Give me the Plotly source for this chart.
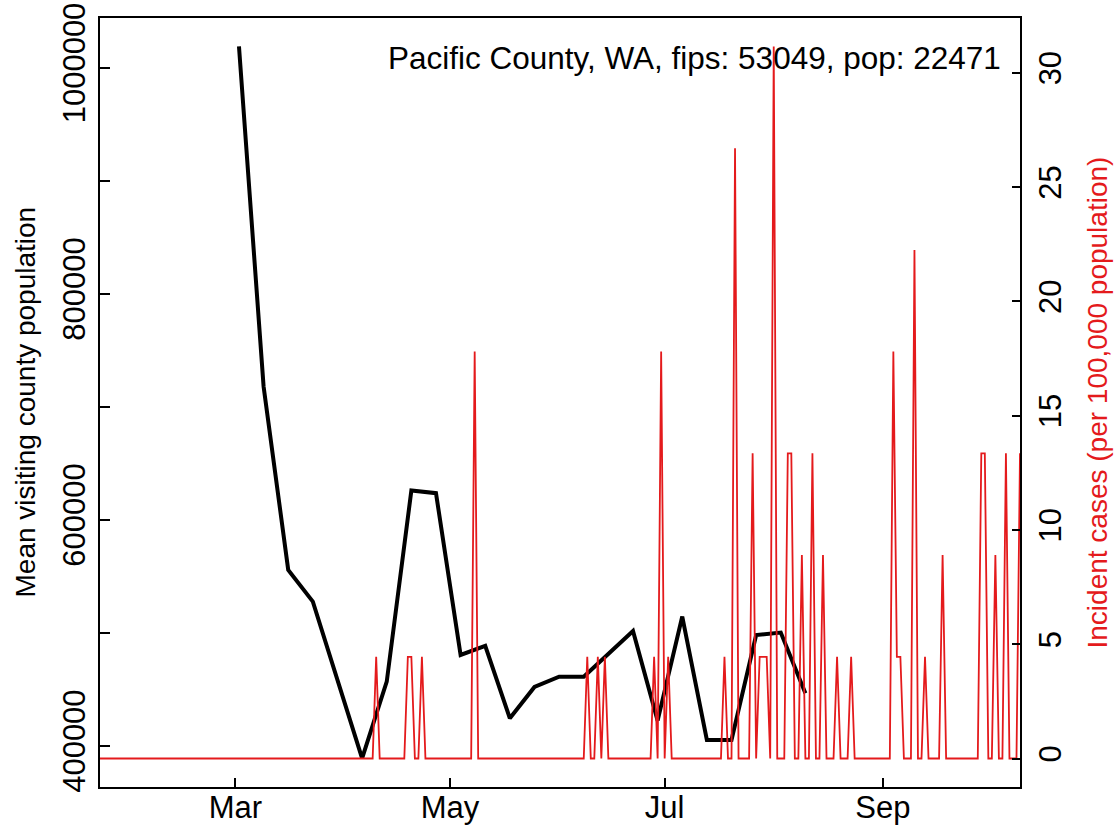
import plotly.graph_objects as go
import pandas as pd

# Pacific County, WA - visiting population (weekly) and daily incident cases

pop = 22471

# weekly mean visiting county population (left axis)
visit_dates = ['2020-03-02', '2020-03-09', '2020-03-16', '2020-03-23', '2020-04-06',
               '2020-04-13', '2020-04-20', '2020-04-27', '2020-05-04', '2020-05-11',
               '2020-05-18', '2020-05-25', '2020-06-01', '2020-06-08', '2020-06-22',
               '2020-06-29', '2020-07-06', '2020-07-13', '2020-07-20', '2020-07-27',
               '2020-08-03', '2020-08-10']
visit_pop = [1018700, 717900, 555600, 527500, 388750,
             456700, 625800, 623500, 480300, 488300,
             424300, 452000, 461100, 461100, 501600,
             422200, 514300, 405100, 405100, 498000,
             500100, 446400]

# daily new cases, 2020-01-22 .. 2020-10-10, one list per month
cases_jan = [0] * 10
cases_feb = [0] * 29
cases_mar = [0] * 31
cases_apr = [0, 0, 0, 0, 0, 0, 0, 0, 0, 1, 0, 0, 0, 0, 0, 0, 0, 0, 1, 1,
             0, 0, 1, 0, 0, 0, 0, 0, 0, 0]
cases_may = [0, 0, 0, 0, 0, 0, 0, 4, 0, 0, 0, 0, 0, 0, 0, 0, 0, 0, 0, 0,
             0, 0, 0, 0, 0, 0, 0, 0, 0, 0, 0]
cases_jun = [0, 0, 0, 0, 0, 0, 0, 0, 1, 0, 0, 1, 0, 1, 0, 0, 0, 0, 0, 0,
             0, 0, 0, 0, 0, 0, 0, 1, 0, 4]
cases_jul = [0, 1, 0, 0, 0, 0, 0, 0, 0, 0, 0, 0, 0, 0, 0, 0, 0, 1, 0, 0,
             6, 0, 0, 0, 0, 3, 0, 1, 1, 1, 0]
cases_aug = [7, 0, 0, 0, 3, 3, 0, 0, 2, 0, 0, 3, 0, 0, 2, 0, 0, 0, 1, 0,
             0, 0, 1, 0, 0, 0, 0, 0, 0, 0, 0]
cases_sep = [0, 0, 0, 4, 1, 1, 0, 0, 0, 5, 0, 0, 1, 0, 0, 0, 0, 2, 0, 0,
             0, 0, 0, 0, 0, 0, 0, 0, 3, 3]
cases_oct = [0, 0, 2, 0, 0, 3, 0, 0, 0, 3]

daily_cases = (cases_jan + cases_feb + cases_mar + cases_apr + cases_may +
               cases_jun + cases_jul + cases_aug + cases_sep + cases_oct)
case_dates = pd.date_range('2020-01-22', periods=len(daily_cases), freq='D')
case_rate = [c * 100000 / pop for c in daily_cases]

month_ticks = ['2020-03-01', '2020-05-01', '2020-07-01', '2020-09-01']
month_labels = ['Mar', 'May', 'Jul', 'Sep']
left_ticks = [400000, 500000, 600000, 700000, 800000, 900000, 1000000]
left_labels = ['400000', '', '600000', '', '800000', '', '1000000']
right_ticks = [0, 5, 10, 15, 20, 25, 30]

red = '#e41a1c'
font = 'Liberation Sans, Arial, sans-serif'

fig = go.Figure()
fig.add_trace(go.Scatter(x=pd.to_datetime(visit_dates), y=visit_pop, mode='lines',
                         line=dict(color='black', width=4), showlegend=False))
fig.add_trace(go.Scatter(x=case_dates, y=case_rate, mode='lines', yaxis='y2',
                         line=dict(color=red, width=1.8), showlegend=False))

# R style: padded ranges, ticks pointing inwards, full box
fig.update_xaxes(range=['2020-01-22 12:00', '2020-10-10'], tickvals=pd.to_datetime(month_ticks),
                 ticktext=month_labels, ticks='inside', ticklen=9, tickwidth=1.5,
                 tickcolor='black', showline=True, mirror=True, linecolor='black',
                 linewidth=1.5, showgrid=False, zeroline=False, automargin=False,
                 ticklabelstandoff=-8, tickfont=dict(size=31, color='black'))

fig.update_layout(
    width=1119, height=830, autosize=False,
    plot_bgcolor='white', paper_bgcolor='white',
    font=dict(family=font, size=30, color='black'),
    margin=dict(t=18, b=43, l=100, r=99),
    yaxis=dict(range=[363500, 1043900], tickvals=left_ticks, ticktext=left_labels,
               tickangle=-90, ticks='inside', ticklen=10, tickwidth=1.5, tickcolor='black',
               showline=True, mirror=True, linecolor='black', linewidth=1.5,
               showgrid=False, zeroline=False, automargin=False, ticklabelstandoff=1,
               ticklabeloverflow='allow', tickfont=dict(size=31, color='black')),
    yaxis2=dict(range=[-1.246, 32.396], tickvals=right_ticks, overlaying='y', side='right',
                tickangle=-90, ticks='inside', ticklen=8, tickwidth=1.5, tickcolor='black',
                showline=True, linecolor='black', linewidth=1.5,
                showgrid=False, zeroline=False, automargin=False, ticklabelstandoff=2,
                ticklabeloverflow='allow', tickfont=dict(size=31, color='black')),
)

# axis titles
fig.add_annotation(x=-0.0815, y=0.5, xref='paper', yref='paper', textangle=-90,
                   xanchor='center', yanchor='middle', showarrow=False,
                   text='Mean visiting county population',
                   font=dict(size=28, color='black'))
fig.add_annotation(x=1.0837, y=0.5, xref='paper', yref='paper', textangle=-90,
                   xanchor='center', yanchor='middle', showarrow=False,
                   text='Incident cases (per 100,000 population)',
                   font=dict(size=28, color=red))

fig.add_annotation(x=0.9815, y=0.9486, xref='paper', yref='paper', xanchor='right',
                   yanchor='middle', showarrow=False,
                   text='Pacific County, WA, fips: 53049, pop: 22471',
                   font=dict(size=31.5, color='black'))

fig.write_html("out.html", config={'displayModeBar': False},
               post_script="document.body.style.margin='0';")
